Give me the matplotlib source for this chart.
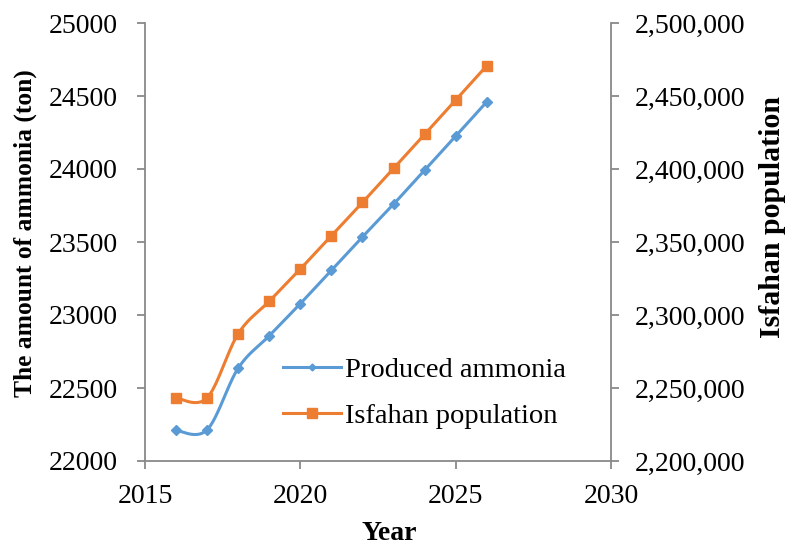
import matplotlib
matplotlib.use("Agg")
import matplotlib.pyplot as plt
import matplotlib.ticker as mticker
from matplotlib.lines import Line2D
import numpy as np

plt.rcParams['font.family'] = ['Liberation Serif', 'DejaVu Serif']

years = [2016, 2017, 2018, 2019, 2020, 2021, 2022, 2023, 2024, 2025, 2026]
ammonia = [22209, 22214, 22636, 22858, 23078, 23306, 23535, 23759, 23992, 24225, 24460]
population = [2243100, 2243300, 2287200, 2309400, 2331500, 2354300,
              2377100, 2400400, 2423700, 2447200, 2470700]

BLUE = '#5B9BD5'
ORANGE = '#ED7D31'
GREY = '#898989'


def smooth(x, y, n=30):
    # excel-like smoothed line (catmull-rom bezier through the points)
    x = np.asarray(x, float)
    y = np.asarray(y, float)
    px = np.concatenate([[x[0]], x, [x[-1]]])
    py = np.concatenate([[y[0]], y, [y[-1]]])
    t = np.linspace(0, 1, n)[:, None]
    xs, ys = [], []
    for i in range(1, len(px) - 2):
        p0 = np.array([px[i], py[i]])
        p3 = np.array([px[i + 1], py[i + 1]])
        c1 = p0 + (p3 - np.array([px[i - 1], py[i - 1]])) / 6
        c2 = p3 - (np.array([px[i + 2], py[i + 2]]) - p0) / 6
        b = ((1 - t) ** 3) * p0 + 3 * ((1 - t) ** 2) * t * c1 + 3 * (1 - t) * t ** 2 * c2 + t ** 3 * p3
        xs.append(b[:, 0])
        ys.append(b[:, 1])
    return np.concatenate(xs), np.concatenate(ys)


fig = plt.figure(figsize=(7.92, 5.45), dpi=100)
ax = fig.add_axes([145 / 792, 1 - 461 / 545, 466 / 792, 438 / 545])
ax2 = ax.twinx()

sx, sy = smooth(years, ammonia)
ax.plot(sx, sy, color=BLUE, lw=2.2, zorder=3)
ax.plot(years, ammonia, ls='none', marker='D', ms=5, color=BLUE, zorder=4)

sx, sy = smooth(years, population)
ax2.plot(sx, sy, color=ORANGE, lw=2.2, zorder=3)
ax2.plot(years, population, ls='none', marker='s', ms=7, color=ORANGE, zorder=4)

ax.set_xlim(2015, 2030)
ax.set_ylim(22000, 25000)
ax2.set_ylim(2200000, 2500000)
ax.set_xticks([2015, 2020, 2025, 2030])
ax.set_yticks(np.arange(22000, 25001, 500))
ax2.set_yticks(np.arange(2200000, 2500001, 50000))
ax2.yaxis.set_major_formatter(mticker.FuncFormatter(lambda v, p: '{:,.0f}'.format(v)))

for a in (ax, ax2):
    for s in a.spines.values():
        s.set_color(GREY)
        s.set_linewidth(1.3)
    a.spines['top'].set_visible(False)
    a.tick_params(colors=GREY, labelcolor='black', labelsize=20,
                  length=6, width=1.3, direction='out')
ax.spines['right'].set_visible(False)
ax2.spines['left'].set_visible(False)
ax2.spines['bottom'].set_visible(False)
ax.tick_params(axis='y', pad=13.5)
ax.tick_params(axis='x', pad=10.5)
ax2.tick_params(axis='y', pad=11.4)

fig.text(389 / 792, 1 - 533 / 545, 'Year', fontsize=20, fontweight='bold',
         ha='center', va='center')
fig.text(25 / 792, 1 - 233 / 545, 'The amount of ammonia (ton)', fontsize=18.4,
         fontweight='bold', rotation=90, ha='center', va='center')
fig.text(773 / 792, 1 - 217 / 545, 'Isfahan population', fontsize=21.5,
         fontweight='bold', rotation=90, ha='center', va='center')

handles = [Line2D([], [], color=BLUE, lw=2.2, marker='D', ms=3.5),
           Line2D([], [], color=ORANGE, lw=2.2, marker='s', ms=6.5)]
fig.legend(handles, ['Produced ammonia', 'Isfahan population'],
           loc='upper left', bbox_to_anchor=(283 / 792, 1 - 357 / 545),
           frameon=False, fontsize=20.5, handlelength=2.04, handletextpad=0.14,
           labelspacing=0.7, borderaxespad=0, borderpad=0)

fig.savefig('out.png', dpi=100)
